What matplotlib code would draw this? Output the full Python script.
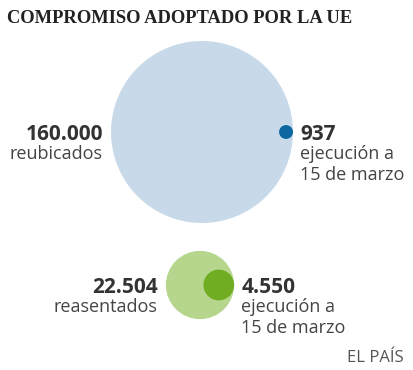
import numpy as np
import matplotlib
matplotlib.use("Agg")
import matplotlib.pyplot as plt
from matplotlib.patches import Circle

title = "COMPROMISO ADOPTADO POR LA UE"
totales = [160000, 22504]
total_labels = ["reubicados", "reasentados"]
ejecutados = [937, 4550]
ejec_lines = ["ejecución a", "15 de marzo"]
fuente = "EL PAÍS"

light_cols = ["#c8dae9", "#b5d68c"]
dark_cols = ["#0d67a0", "#70ad23"]

def fmt(v):
    return f"{v:,}".replace(",", ".")

fig = plt.figure(figsize=(4.14, 3.70), dpi=100)
ax = fig.add_axes([0, 0, 1, 1])
ax.set_xlim(0, 414)
ax.set_ylim(370, 0)
ax.set_aspect("equal")
ax.axis("off")

scale = 91 / np.sqrt(max(totales))
centers = [(202, 132), (200, 285)]
num_kw = dict(fontsize=15, fontweight="bold", family="Open Sans", color="#333333")
lab_kw = dict(fontsize=13, family="Open Sans", color="#444444")

for i in range(len(totales)):
    cx, cy = centers[i]
    R = scale * np.sqrt(totales[i])
    r = scale * np.sqrt(ejecutados[i])
    ax.add_patch(Circle((cx, cy), R, color=light_cols[i], lw=0))
    ax.add_patch(Circle((cx + R - r, cy), r, color=dark_cols[i], lw=0))
    # left labels
    lx = cx - R - 8
    ax.text(lx, cy + 8, fmt(totales[i]), ha="right", va="baseline", **num_kw)
    ax.text(lx, cy + 27, total_labels[i], ha="right", va="baseline", **lab_kw)
    # right labels
    rx = cx + R + 7
    ax.text(rx, cy + 8, fmt(ejecutados[i]), ha="left", va="baseline", **num_kw)
    for k, line in enumerate(ejec_lines):
        ax.text(rx, cy + 27 + 21 * k, line, ha="left", va="baseline", **lab_kw)

ax.text(7, 23, title, ha="left", va="baseline", fontsize=13.3,
        fontweight="bold", family="Liberation Serif", color="#222222")
ax.text(404, 362, fuente, ha="right", va="baseline", fontsize=12,
        family="Open Sans", color="#555555")

fig.savefig("out.png", dpi=100)
